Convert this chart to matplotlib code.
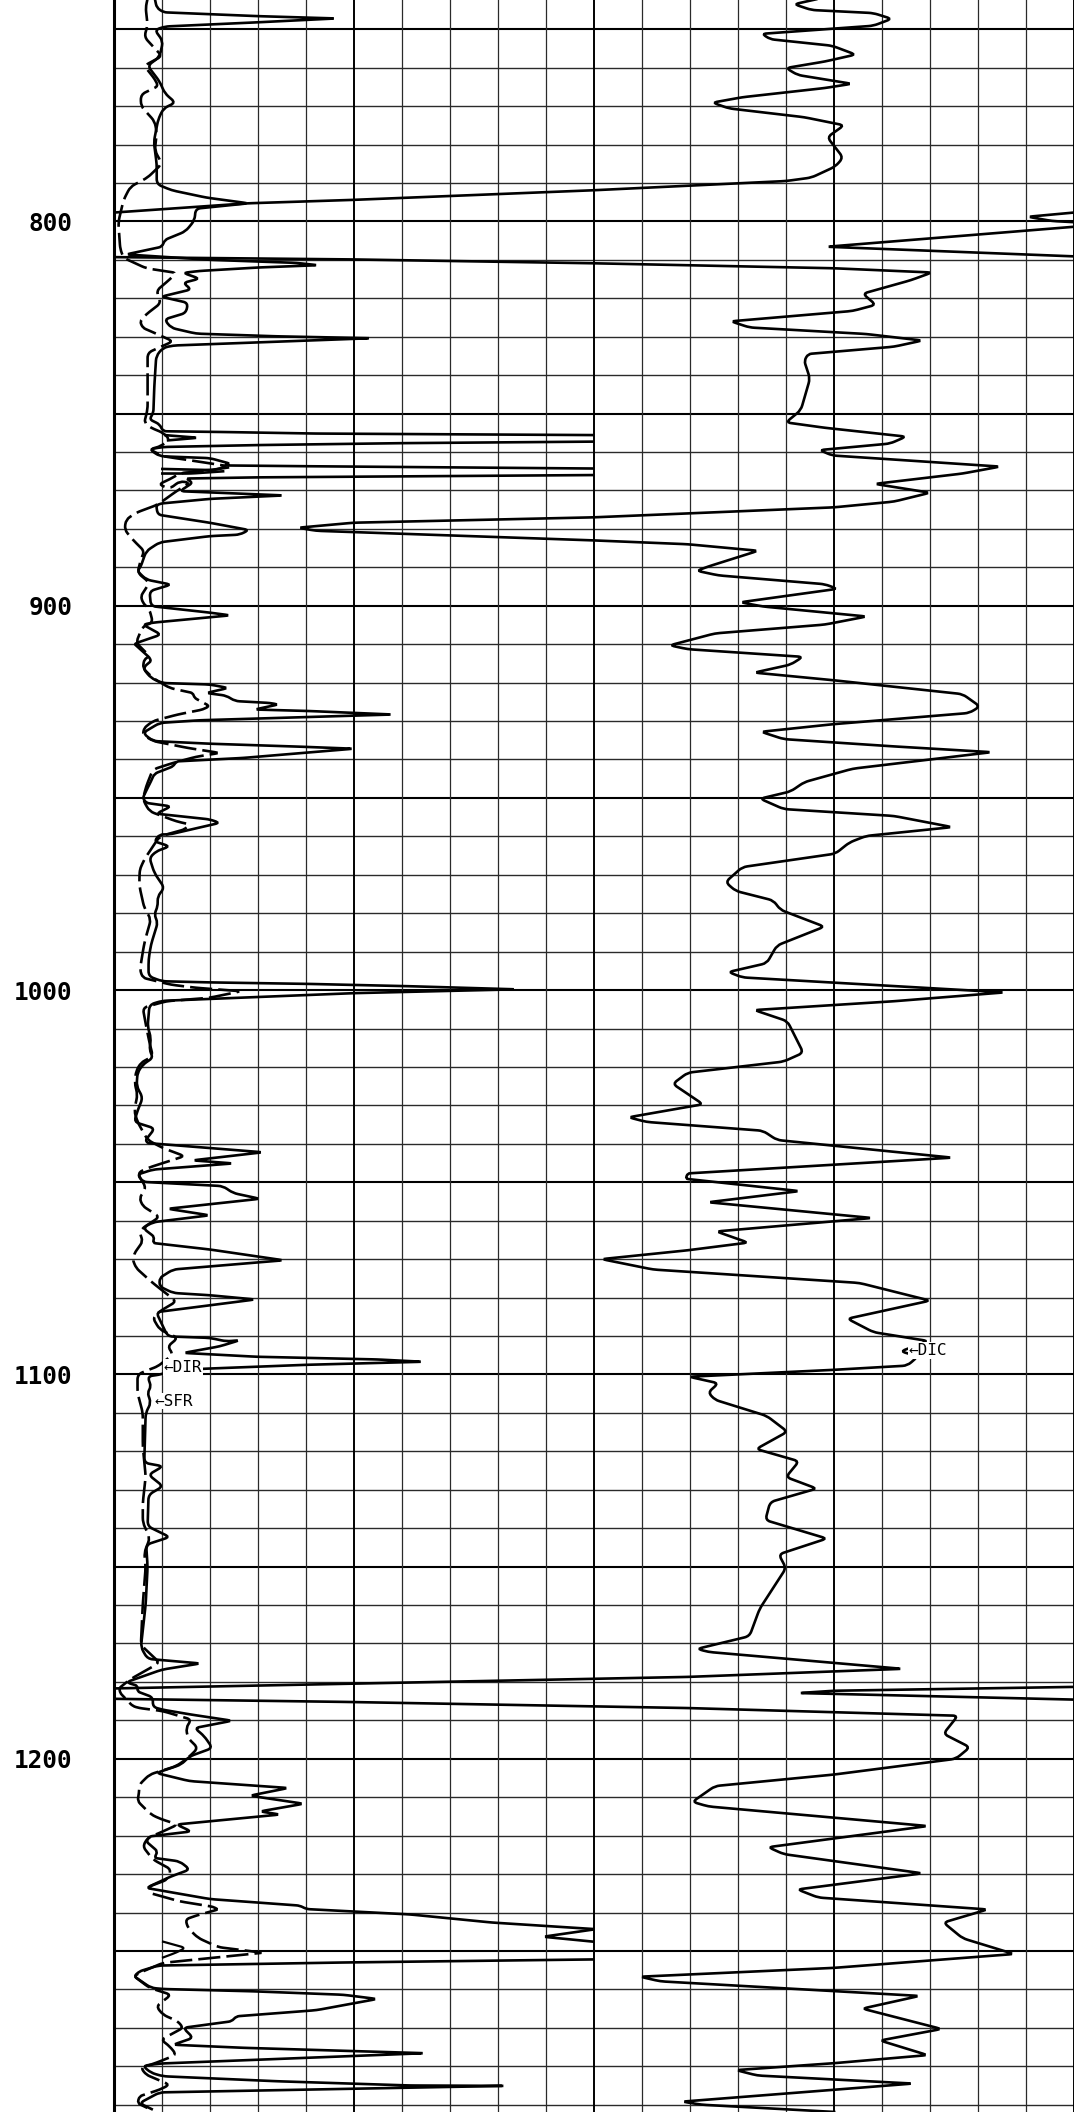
import numpy as np
import matplotlib
matplotlib.use('Agg')
import matplotlib.pyplot as plt
from matplotlib.path import Path
from matplotlib.patches import PathPatch

# x is in chart divisions (0-20), y is depth
depth_top = 742.4
depth_bottom = 1291.9
depth_labels = [800, 900, 1000, 1100, 1200]

# deep resistivity, solid left curve, broken where it wraps at division 10
dir_upper = [(.85,742),(.89,744.4),(1.03,745.6),(3,746.6),(4.62,747.2),(3,748.2),(1.06,749.3),(.85,750.2),(1.02,753.1),
    (.95,757.2),(.7,759.5),(.95,763.6),(1.06,766.7),(1.28,769.1),(1.03,770.6),(.92,773.5),(.83,779.3),(.89,785.1),
    (.89,790.3),(1.2,791.9),(1.92,793.8),(2.8,795.3),(1.7,796.7),(1.68,799.7),(1.49,802.6),(1.06,804.8),(1.0,806.6),
    (.25,808.6),(2,810),(3.8,810.8),(4.25,811.4),(3,812),(1.78,812.9),(1.44,813.4),(1.78,814.9),(1.44,816),(1.61,817.7),
    (.98,819.6),(1.54,821.2),(1.5,823.8),(1.05,825.5),(1.19,827.7),(1.71,829.2),(3.39,829.9),(5.35,830.4),(1.23,832.3),
    (1.02,832.9),(.88,835),(.84,842.9),(.82,849.8),(.74,851.5),(.95,852.8),(1.02,854.6),(2.27,854.8),(4.2,855.2),(10,855.6)]
dir_spike1 = [(1.05,855.6),(1.75,856.3),(1.1,857)]
dir_mid1 = [(10,857.3),(6,857.7),(3,858.2),(1.02,858.7),(.74,859.3),(.95,861.1),(2,861.6),(2.41,863),(2.3,863.5),
    (4,863.7),(7,864),(10,864.3)]
dir_spike2 = [(.98,864.4),(2,864.7),(2.4,864)]
dir_spike3 = [(.98,865.6),(1.6,865.6),(2.3,865)]
dir_lower = [(10,866),(6.5,866.3),(3,866.6),(1.5,866.9),(1.64,868),(1.37,870.2),(2.37,870.7),(3.53,871.3),(2,872.2),
    (.98,873.4),(.88,873.9),(.91,876.3),(1.99,878.4),(2.81,880.3),(2.62,881.5),(1.99,881.9),(.95,883.5),(.67,885.8),
    (.56,889.7),(.49,891),(.67,893.2),(1.19,894.5),(.74,896.2),(.77,900.1),(2,901.8),(2.42,902.5),(.81,904.4),
    (.6,904.9),(.98,907.5),(.49,909.6),(.43,910),(.74,913.5),(.77,914.4),(.6,916.2),(.77,918.8),(1,920.1),(2,920.5),
    (2.38,921.4),(1.92,922.7),(2.34,923.4),(2.52,924.8),(3.25,925.3),(3.42,925.7),(2.93,927),(4.08,927.4),(5.8,928.3),
    (3.39,929.2),(1.78,929.8),(.95,930.5),(.6,933.1),(.81,935.2),(2,935.9),(3.94,936.7),(4.99,937.2),(2.69,939.6),
    (1.3,940.5),(1.23,941.8),(.84,943.7),(.77,945.7),(.7,947.4),(.6,950),(.67,951.3),(1.19,952.2),(.88,954.1),(2,955.6),
    (2.2,956.5),(1.16,959.5),(.95,959.5),(.84,961.3),(1.16,962.6),(.88,963.9),(.74,965.6),(.84,969.5),(1.05,973.4),
    (.91,975.6),(.91,978.2),(.84,980.3),(.91,982.5),(.77,988.2),(.72,992.1),(.72,996.4),(1,997.7),(2,998),(4.08,998.4),
    (6.17,999),(8.37,999.8),(5,1000.8),(2,1002.3),(1,1002.8),(.74,1003.8),(.7,1009.5),(.77,1012.4),(.74,1015.5),(.81,1017.6),
    (.6,1019.4),(.49,1021.5),(.47,1025),(.6,1028),(.49,1031.4),(.42,1034.3),(.85,1036),(.66,1039),(.7,1039.8),(2,1041.1),
    (3.1,1042.2),(1.64,1044.3),(2.48,1045.1),(.81,1046.7),(.49,1048),(.6,1049.9),(2.27,1051),(2.48,1052.8),(3.04,1054.3),
    (1.12,1056.9),(1.99,1058.6),(.81,1060.4),(.6,1061.9),(.84,1064.2),(.81,1065.8),(2,1067.5),(3.53,1070.3),(1.23,1072.7),
    (.95,1074.9),(.95,1077.1),(1.23,1078.8),(2,1079.4),(2.94,1080.5),(.88,1083.8),(1.02,1087.5),(1.12,1090.1),(2,1090.5),
    (2.34,1091.4),(2.62,1091.1),(2.2,1092.7),(1.45,1094.4),(2.97,1095.4),(5.48,1096.1),(6.43,1096.7),(4,1097.5),(1.92,1098.5),
    (1.2,1099),(.98,1100),(.7,1100.5),(.77,1103.1),(.7,1104.8),(.77,1107.4),(.66,1110),(.63,1123),(1.02,1123.9),(.72,1126.1),
    (1.02,1129.1),(.72,1131.3),(.7,1139.5),(1.16,1142.3),(.67,1144.3),(.7,1150),(.66,1159.8),(.56,1171),(.7,1174),
    (1.8,1175.2),(1,1176.8),(.25,1180.1),(.49,1181),(.49,1182.5),(.81,1184),(.81,1186.5),(1,1187.2),(1.61,1188.5),
    (2.46,1190.1),(1.68,1192),(1.88,1194.1),(2.05,1197.2),(1.57,1199.4),(1.4,1201.5),(.88,1203.7),(1.57,1205.8),(3.63,1207.6),
    (2.83,1209.6),(3.95,1211.7),(3.04,1213.7),(3.46,1214.5),(1.3,1217.1),(1.61,1218.9),(.74,1220.2),(.67,1221.5),(.91,1224.1),
    (.84,1225.8),(1.37,1226.7),(1.58,1228.8),(1.19,1230.6),(.67,1233.6),(2,1236.5),(3.87,1238.2),(4.01,1239.1),(6.17,1240.5),
    (7.87,1242.6),(10,1244.3)]
dir_wrap = [(10,1244.4),(8.94,1246.3),(10,1247.6)]
dir_bottom = [(10,1252.2),(4.79,1253),(.92,1253.8),(.53,1255.3),(.42,1256.6),(.77,1259.6),(1.02,1259.9),(2.9,1260.5),(4.78,1261.4),
    (5.48,1262.5),(4.22,1265.4),(2.55,1267),(2.45,1268.3),(1.44,1270),(1.65,1272.6),(1.23,1274.4),(2.7,1275.2),(6.47,1276.6),
    (.95,1279.3),(.6,1279.9),(.77,1281.7),(1.02,1282.6),(3.4,1283.9),(6.17,1285),(8.15,1285.1),(.95,1286.8),(.53,1289.6),(.81,1291.3)]

# shallow focused resistivity, dashed left curve
sfr_curve = [(.7,742),(.66,744.4),(.7,749),(.63,752),(.85,755),(1,757),(.63,759.5),(.85,763),(.92,764.8),(.56,767),(.56,770),
    (.85,774),(.89,777),(.85,781.6),(1,785),(.7,788.6),(.34,791),(.2,794.4),(.09,800.2),(.13,807.2),(.2,809.5),(.67,812.2),
    (1.3,813.4),(1.16,815.1),(.88,818.1),(.98,821.2),(.67,824.2),(.54,826),(.6,827.7),(.84,829),(1.23,831.2),(.98,832.6),
    (.7,834.2),(.7,844.6),(.7,848.9),(.63,852.4),(.77,853.7),(1.02,855),(1.16,856.7),(.98,858.5),(.74,859.3),(1.02,861.1),
    (1.23,861.5),(1.92,862.8),(2.38,863.7),(1.99,865),(1.4,865.4),(1.16,867.1),(.93,868.4),(1.16,869.6),(1.37,867.6),(1.58,868),
    (1.3,870.2),(.91,873.7),(.46,875.8),(.25,877.6),(.22,880.2),(.39,882.8),(.63,885.8),(.56,888),(.49,891.4),(.74,894),
    (.56,897.5),(.6,899.2),(.74,901),(.81,904.4),(.6,905.3),(.46,909.6),(.74,913.1),(.63,914),(.6,916.2),(.81,918.8),(1.16,921.4),
    (1.64,922.7),(1.68,924),(1.99,926.1),(1.85,927),(1.33,928.3),(.81,930),(.63,931.8),(.6,933.5),(.81,935.2),(1.54,937),(2.2,938.3),
    (1.71,939.3),(1.23,940.9),(.81,942.6),(.67,947),(.6,950.4),(.74,953.5),(1.3,956.1),(1.58,956.9),(1.47,958.2),(.95,960),(.77,963.4),
    (.63,966),(.54,968.6),(.53,970.4),(.53,973),(.63,978.6),(.77,981.6),(.66,986.4),(.62,988.6),(.54,994.7),(.6,996.8),(1.19,998.6),
    (1.71,999.4),(2.65,1000.3),(1.99,1002),(1.09,1002.9),(.6,1004.6),(.67,1009.4),(.74,1013.7),(.81,1017.2),(.56,1018.9),(.46,1021.1),
    (.43,1024.2),(.49,1027.2),(.42,1031.4),(.49,1034.3),(.7,1039),(1.02,1041.1),(1.47,1043.2),(1.02,1045),(.7,1046.3),(.49,1047.6),
    (.67,1051.5),(.53,1054.1),(.6,1056.2),(.95,1059),(.6,1061.9),(.54,1063.2),(.6,1065.4),(.43,1068.4),(.39,1070.1),(.46,1072.3),
    (.77,1075.8),(.98,1077.9),(1.3,1081),(.95,1083.6),(.81,1085.3),(.95,1088.3),(1.33,1090.5),(1.12,1092.7),(1.23,1094.8),(.91,1097.9),
    (.74,1098.7),(.49,1100),(.49,1104.8),(.6,1110),(.6,1118.7),(.66,1126.5),(.6,1133.4),(.6,1138.6),(.75,1142.5),(.63,1146.4),(.66,1150),
    (.6,1159.8),(.56,1170.4),(.95,1175),(.34,1179.3),(.11,1181.6),(.13,1182.9),(.39,1186.3),(.53,1186.8),(1.02,1187.6),(1.61,1189.8),
    (1.5,1192),(1.54,1194.6),(1.75,1197.2),(1.54,1199.8),(1.3,1201.9),(.74,1204.1),(.53,1206.7),(.52,1208.9),(.49,1211),(.77,1214.5),
    (.98,1215.7),(1.33,1217.1),(1.02,1218.9),(.7,1220.6),(.6,1222.8),(.81,1226.2),(1.19,1228.8),(1.12,1231.4),(.74,1233.2),(.74,1234.9),
    (1.37,1237.1),(2.06,1238.5),(2.17,1239.2),(1.71,1240.8),(1.49,1241.8),(1.54,1244),(1.75,1246.6),(2.17,1249),(3,1250.3),(3.07,1250.5),
    (1.89,1252),(1.02,1253.1),(.53,1255.7),(.42,1256.6),(.74,1259.6),(1.19,1261.4),(.88,1264.4),(1.02,1266.6),(1.33,1268.3),(1.44,1270),
    (.98,1273.1),(1.16,1274.8),(1.3,1277),(.88,1279.1),(.56,1280.4),(.67,1282.2),(1.16,1284.8),(.95,1286.1),(.53,1287.8),(.49,1289.6),(.77,1291.3)]
sfr_bump = [(1,1247.5),(1.49,1249.2),(1.3,1250.4),(1,1251.8)]

# induction conductivity, solid right curve, wraps left and right
dic_upper = [(14.67,742.1),(14.17,743.5),(14.53,745),(15.82,745.8),(16.2,747.3),(15.82,749.1),(13.5,751.2),(13.67,752.6),(14.96,754.3),
    (15.45,756.6),(14.81,758.4),(14,760.1),(14.24,761.9),(15.37,764.2),(14.81,765.3),(13.09,767.7),(12.47,769.1),(12.81,770.6),(14.38,772.9),
    (15.21,775),(14.86,778.1),(15.19,783.4),(15.03,785.7),(14.53,788.6),(14,789.5),(9.99,791.9),(4.99,794.4),(2.78,795.3),(0,797.7)]
dic_wrap1 = [(20,797.7),(19.04,798.8),(19.54,799.9),(20,800.2)]
dic_wrap2 = [(20,801.4),(14.85,806.6),(20,809.1)]
dic_mid = [(0,809.3),(4.99,809.9),(9.99,810.9),(15,812.2),(17.04,813.3),(16.6,815.3),(15.6,818.8),(15.87,821.7),(15.39,823.3),(12.85,826),
    (13.24,827.6),(15.67,829.3),(16.84,831),(16.25,832.6),(14.46,834.5),(14.38,836.3),(14.5,840.9),(14.31,849.1),(14,852.3),(14.81,853.7),
    (16.5,856),(16.17,857.8),(14.7,859.5),(14.96,860.9),(18.46,863.8),(17.68,865.6),(15.85,868.3),(17,870.6),(16.25,872.9),(15,874.4),
    (9.99,877),(4.99,878.4),(3.84,879.7),(4.21,880.5),(9.99,883),(11.95,884),(13.42,885.7),(12.38,889.8),(12.14,890.9),(12.59,892.1),
    (14.81,894.4),(15.07,895.6),(13.05,899.1),(13.52,900.2),(15.68,902.8),(14.81,904.9),(12.52,907.2),(11.58,910.3),(11.95,911.3),(14.35,913.3),
    (14.1,915.3),(13.34,917.4),(15,919.4),(17.68,923),(18.04,926.2),(17.82,927.9),(15,930.8),(13.48,932.8),(13.95,934.7),(16.25,936.6),(18.28,938.1),
    (15.39,942.4),(14.38,945.9),(14.1,948.3),(13.46,950.2),(13.95,952.9),(16.25,954.7),(17.46,957.6),(15.67,959.9),(15.32,961.6),(15.03,964.5),
    (13.09,968),(12.74,971.9),(12.95,974.2),(13.74,976.7),(13.88,979.1),(14.8,983.5),(13.81,988.4),(13.6,993),(12.8,995.3),(13.09,996.7),
    (18.55,1000.6),(16.25,1002.9),(13.34,1005.2),(14.03,1008.1),(14.36,1016.3),(13.95,1018.6),(11.95,1021.5),(11.64,1024.4),(12.27,1029.7),
    (10.72,1033.1),(11.09,1034.3),(13.52,1036.6),(13.81,1039),(17.46,1043.6),(11.95,1047.7),(11.91,1049.1),(14.28,1052.3),(12.38,1055.2),
    (15.79,1059.3),(12.55,1062.8),(13.21,1065.7),(11.95,1067.7),(10.16,1070),(11.23,1072.7),(15.53,1076.2),(17,1080.8),(15.28,1085.5),
    (15.82,1089),(16.96,1091.3),(16.39,1094),(16.75,1095.3),(16.53,1097.7),(15,1098.8),(11.98,1100.6),(12.59,1102.3),(12.38,1104.7),(12.52,1106.6),
    (13.6,1110.8),(14.03,1114.9),(13.38,1119.4),(14.27,1122.6),(14,1126.7),(14.64,1129.7),(13.67,1133.2),(13.57,1137.9),(14.85,1142.7),(13.85,1146.8),
    (14,1150.4),(13.45,1161),(13.24,1168.1),(12.15,1171.4),(12.38,1172.2),(16.42,1176.6),(11.95,1178.7),(4.79,1180.5),(0,1181.7)]
dic_wrap3 = [(20,1181.3),(15,1182.3),(14.27,1182.9),(20,1184.6)]
dic_lower = [(0,1184.4),(4.79,1185.2),(11.95,1186.8),(17.58,1188.8),(17.28,1193.5),(17.83,1197),(17.54,1200),(15,1204.1),(12.52,1207.1),(12.05,1211.2),
    (12.38,1212.4),(16.95,1217.5),(13.63,1223),(13.95,1224.8),(16.84,1229.8),(14.24,1234),(14.67,1236.1),(18.2,1239.2),(17.28,1242.6),(17.68,1246.7),
    (18.75,1250.8),(15,1254.4),(10.96,1256.7),(11.38,1257.9),(16.78,1261.7),(15.59,1265),(17.24,1270.3),(15.96,1273.3),(16.95,1277.1),(15,1279.2),(12.96,1281),
    (13.4,1282.4),(16.64,1284.5),(14.81,1286.3),(11.84,1289.2),(12.24,1290),(15.03,1291.9)]

dir_parts = [dir_upper, dir_spike1, dir_mid1, dir_spike2, dir_spike3, dir_lower, dir_wrap, dir_bottom]
dic_parts = [dic_upper, dic_wrap1, dic_wrap2, dic_mid, dic_wrap3, dic_lower]


def rounded_path(points, radius=5):
    # stroke through the read points with the corners rounded off a little
    pts = np.array(points, dtype=float)
    px = np.array([48.0, 3.843])
    verts = [pts[0]]
    codes = [Path.MOVETO]
    for i in range(1, len(pts) - 1):
        a, b, c = pts[i - 1], pts[i], pts[i + 1]
        la = max(np.linalg.norm((a - b) * px), 1e-6)
        lc = max(np.linalg.norm((c - b) * px), 1e-6)
        r = min(radius, 0.45 * la, 0.45 * lc)
        verts += [b + (a - b) * r / la, b, b + (c - b) * r / lc]
        codes += [Path.LINETO, Path.CURVE3, Path.CURVE3]
    verts.append(pts[-1])
    codes.append(Path.LINETO)
    return Path(verts, codes)


fig = plt.figure(figsize=(10.78, 21.12), dpi=100)
ax = fig.add_axes([114 / 1078, 0, (1074 - 114) / 1078, 1])
ax.set_xlim(0, 20)
ax.set_ylim(depth_bottom, depth_top)

# grid
for d in np.arange(750, 1300, 10):
    if d % 50 == 0:
        ax.axhline(d, color='black', lw=1.5, zorder=1)
    else:
        ax.axhline(d, color='#2a2a2a', lw=1.0, zorder=1)
for x in range(0, 21):
    if x % 5 == 0:
        ax.axvline(x, color='black', lw=1.4, zorder=1)
    else:
        ax.axvline(x, color='#2a2a2a', lw=0.9, zorder=1)

for part in dir_parts + dic_parts:
    ax.add_patch(PathPatch(rounded_path(part), fill=False, edgecolor='black', lw=1.9, zorder=3))

ax.add_patch(PathPatch(rounded_path(sfr_curve), fill=False, edgecolor='black', lw=1.9, ls=(0, (8.4, 2.3)), zorder=3))
ax.add_patch(PathPatch(rounded_path(sfr_bump), fill=False, edgecolor='black', lw=1.6, zorder=3))

labelbox = dict(facecolor='white', edgecolor='none', pad=0.5)
for name, x, d in [('\u2190DIR', 1.04, 1098.2), ('\u2190SFR', 0.85, 1107), ('\u2190DIC', 16.56, 1093.8)]:
    ax.text(x, d, name, family='DejaVu Sans Mono', fontsize=11.5, va='center', ha='left', bbox=labelbox, zorder=4)

ax.set_xticks([])
ax.set_yticks(depth_labels)
ax.set_yticklabels(depth_labels, family='DejaVu Sans Mono', fontweight='bold', fontsize=17.6)
ax.tick_params(axis='y', length=0, pad=30)
for side in ['top', 'bottom', 'right']:
    ax.spines[side].set_visible(False)
ax.spines['left'].set_linewidth(2.2)

fig.savefig('out.png', dpi=100)
